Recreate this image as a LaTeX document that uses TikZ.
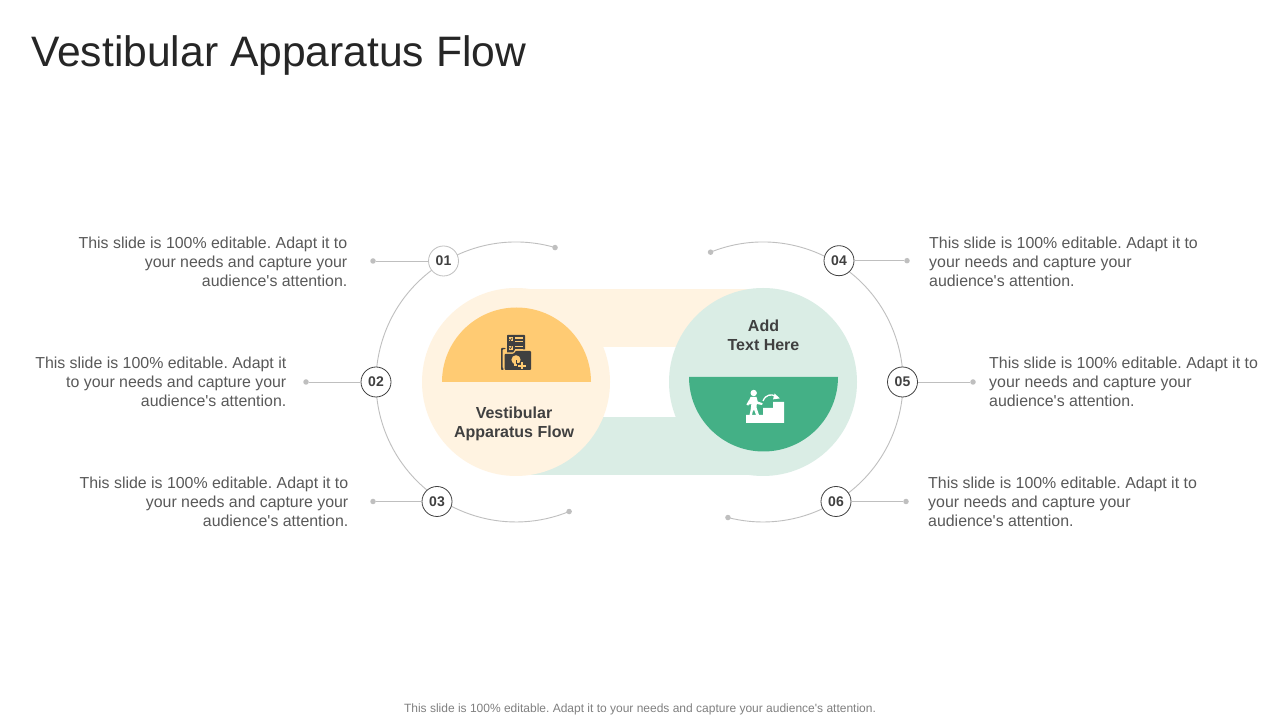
\documentclass[tikz,border=0pt]{standalone}
\usepackage{fontspec}
\setmainfont{Liberation Sans}
\frenchspacing
\definecolor{cream}{HTML}{FFF3E1}
\definecolor{mint}{HTML}{DAEDE5}
\definecolor{amber}{HTML}{FFCB73}
\definecolor{leaf}{HTML}{44B086}
\definecolor{ink}{HTML}{404040}
\definecolor{bodytxt}{HTML}{595959}
\definecolor{wire}{HTML}{BFBFBF}
\newcommand{\qs}{\textquotesingle}
\newcommand{\numtxt}[1]{\raisebox{-0.6pt}{#1}}
\tikzset{
  numnode/.style={circle,draw=#1,fill=white,line width=0.8pt,minimum size=30pt,inner sep=0pt,text=ink,font=\fontsize{14}{16}\selectfont\bfseries},
  numnode/.default=wire,
  bodyleft/.style={anchor=east,align=right,inner sep=0pt,text=bodytxt,font=\fontsize{15.9}{19.2}\selectfont},
  bodyright/.style={anchor=west,align=left,inner sep=0pt,text=bodytxt,font=\fontsize{15.9}{19.2}\selectfont},
  headtxt/.style={align=center,inner sep=0pt,text=ink,font=\fontsize{16}{19.2}\selectfont\bfseries},
  wireline/.style={draw=wire,line width=0.9pt},
  enddot/.style={circle,fill=wire,inner sep=0pt,minimum size=5.5pt}
}
\begin{document}
\begin{tikzpicture}[x=1pt,y=1pt]
\useasboundingbox (0,0) rectangle (1280,720);
\fill[white] (0,0) rectangle (1280,720);
\node[anchor=west,inner sep=0pt,text=black!85,font=\fontsize{42.6}{50}\selectfont] (title) at (31,665) {Vestibular Apparatus Flow};
% bands
\fill[cream] (516,373) rectangle (763,431);
\fill[mint] (516,245) rectangle (763,303);
% big circles
\fill[cream] (516,338) circle[radius=94];
\fill[mint] (763,338) circle[radius=94];
% half discs
\fill[amber] (442,338) arc[start angle=180,end angle=0,radius=74.5] -- cycle;
\fill[leaf] (689,343) arc[start angle=180,end angle=360,radius=74.5] -- cycle;
% arcs
\coordinate (cl) at (516,338);
\coordinate (cr) at (763,338);
\path (cl) ++(73.8:140) coordinate (la);
\path (cr) ++(112:140) coordinate (ra);
\draw[wireline] (la) arc[start angle=73.8,end angle=292.3,radius=140] coordinate (lb);
\draw[wireline] (ra) arc[start angle=112,end angle=-104.5,radius=140] coordinate (rb);
\node[enddot] (dla) at (la) {};
\node[enddot] (dlb) at (lb) {};
\node[enddot] (dra) at (ra) {};
\node[enddot] (drb) at (rb) {};
% numbered nodes
\node[numnode] (n1) at (443.5,459) {\numtxt{01}};
\node[numnode=ink] (n2) at (376,338) {\numtxt{02}};
\node[numnode=ink] (n3) at (437,218.5) {\numtxt{03}};
\node[numnode=ink] (n4) at (839,459.3) {\numtxt{04}};
\node[numnode=ink] (n5) at (902.5,338) {\numtxt{05}};
\node[numnode=ink] (n6) at (836,218.5) {\numtxt{06}};
% leader dots
\node[enddot] (d1) at (373,459) {};
\node[enddot] (d2) at (306,338) {};
\node[enddot] (d3) at (373,218.5) {};
\node[enddot] (d4) at (907,459.3) {};
\node[enddot] (d5) at (973,338) {};
\node[enddot] (d6) at (906,218.5) {};
\draw[wireline] (n1) -- (d1);
\draw[wireline] (n2) -- (d2);
\draw[wireline] (n3) -- (d3);
\draw[wireline] (n4) -- (d4);
\draw[wireline] (n5) -- (d5);
\draw[wireline] (n6) -- (d6);
% body text
\node[bodyleft] (t1) at (347.5,458) {This slide is 100\% editable. Adapt it to\\your needs and capture your\\audience\qs s attention.};
\node[bodyleft] (t2) at (286.5,338) {This slide is 100\% editable. Adapt it\\to your needs and capture your\\audience\qs s attention.};
\node[bodyleft] (t3) at (348.5,218) {This slide is 100\% editable. Adapt it to\\your needs and capture your\\audience\qs s attention.};
\node[bodyright] (t4) at (929,458) {This slide is 100\% editable. Adapt it to\\your needs and capture your\\audience\qs s attention.};
\node[bodyright] (t5) at (989,338) {This slide is 100\% editable. Adapt it to\\your needs and capture your\\audience\qs s attention.};
\node[bodyright] (t6) at (928,218) {This slide is 100\% editable. Adapt it to\\your needs and capture your\\audience\qs s attention.};
% heads
\node[headtxt] (h1) at (514,296) {Vestibular\\Apparatus Flow};
\node[headtxt] (h2) at (763.5,385) {Add\\Text Here};
% footer
\node[inner sep=0pt,text=black!50,font=\fontsize{12}{14}\selectfont] (foot) at (640,10.5) {This slide is 100\% editable. Adapt it to your needs and capture your audience\qs s attention.};
% folder icon
\fill[ink,rounded corners=0.6] (507,385) rectangle (525,366);
\fill[amber] (508.6,382.6) rectangle (512.6,378.6);
\fill[amber] (508.6,374.4) rectangle (512.6,370.4);
\draw[ink,line width=0.7pt] (509.4,380.8) -- (510.4,379.6) -- (512,381.8);
\draw[ink,line width=0.7pt] (509.4,372.6) -- (510.4,371.4) -- (512,373.6);
\fill[amber] (514.5,381.2) rectangle (523,382.5);
\fill[amber] (514.5,377.7) rectangle (523,379);
\fill[amber] (514.5,372.8) rectangle (523,374.1);
\fill[amber] (514.5,369.4) rectangle (523,370.7);
% folder back edge
\fill[ink,rounded corners=0.8] (501,372) -- (505.5,372) -- (505.5,370.8) -- (502.6,370.8) -- (502.6,351.6) -- (505,351.6) -- (505,350) -- (501,350) -- cycle;
% folder front with amber halo
\fill[amber] (503.3,349) -- (503.3,367.5) -- (513.2,367.5) -- (515.2,370.5) -- (532,370.5) -- (532,349) -- cycle;
\fill[ink,rounded corners=1] (504.5,350) -- (504.5,366.2) -- (513.8,366.2) -- (515.8,369.2) -- (531,369.2) -- (531,350) -- cycle;
% bulb
\fill[amber] (516,360.2) circle[radius=4.6];
\fill[amber] (513.8,358) rectangle (518.2,355.4);
\fill[amber] (514.2,354.8) rectangle (517.8,353.8);
\draw[ink,line width=0.5pt] (516,355.6) -- (516,360);
% plus
\fill[ink] (517.2,351) rectangle (526.6,357.2);
\fill[amber] (518.2,353) rectangle (525.6,355.2);
\fill[amber] (520.8,350.5) rectangle (523,357.8);
% stairs icon
\fill[white] (746,297) -- (746,305) -- (763,305) -- (763,312) -- (773,312) -- (773,318) -- (784,318) -- (784,297) -- cycle;
\fill[white] (753.7,327) circle[radius=3.2];
\fill[white] (750.5,323) to[out=10,in=170] (756.5,323) -- (757.8,318.4) -- (762.6,316.8) -- (762,315) -- (756.8,316) -- (756.5,312.5) -- (759,305) -- (756,305) -- (754,310.5) -- (752.6,308) -- (752,305) -- (749.5,305) -- (750.6,310) -- (751.4,316) -- (749.6,315.4) -- (748,317) -- cycle;
\fill[white] (746.4,315.5) -- (748.2,314.4) -- (751,319) -- (749.2,320.4) -- cycle;
\draw[white,line width=1.3pt] (763,319) .. controls (765.5,325.5) and (771.5,326.5) .. (776,323.5);
\fill[white] (774.6,326.5) -- (779.8,321.6) -- (773,320.6) -- cycle;
\end{tikzpicture}
\end{document}
